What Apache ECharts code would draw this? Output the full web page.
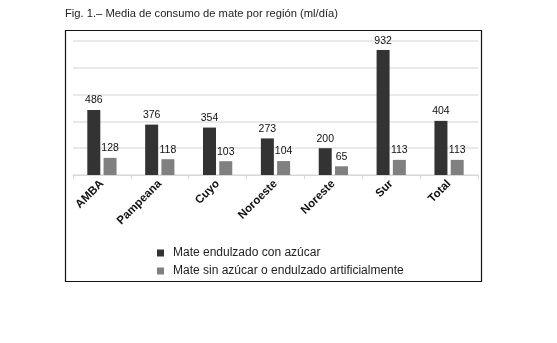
<!DOCTYPE html>
<html><head><meta charset="utf-8">
<script src="https://cdn.jsdelivr.net/npm/echarts@6/dist/echarts.min.js"></script>
<style>html,body{margin:0;padding:0;background:#fff}#c{width:557px;height:343px}</style>
</head><body><div id="c"></div>
<script>
const categories = ['AMBA','Pampeana','Cuyo','Noroeste','Noreste','Sur','Total'];
const conAzucar = [486,376,354,273,200,932,404];
const sinAzucar = [128,118,103,104,65,113,113];
const seriesNames = ['Mate endulzado con azúcar','Mate sin azúcar o endulzado artificialmente'];
const titleText = 'Fig. 1.– Media de consumo de mate por región (ml/día)';

const chart = echarts.init(document.getElementById('c'), null, {renderer:'canvas'});
const font = 'Liberation Sans, Arial, Helvetica, sans-serif';
const lbl = {show:true, position:'top', distance:4, color:'#111', fontSize:10.5, fontFamily:font};
chart.setOption({
  animation:false,
  textStyle:{fontFamily:font},
  title:{text:titleText, left:60, top:3, textStyle:{fontSize:11.2, fontWeight:'normal', color:'#222', fontFamily:font}},
  graphic:[{type:'rect', shape:{x:65.5, y:30.5, width:416, height:251}, style:{fill:'none', stroke:'#111', lineWidth:1.2}, z:-1}],
  grid:{left:73, right:79, top:41, bottom:168},
  legend:{orient:'vertical', left:152, top:242, itemWidth:7, itemHeight:7, itemGap:6, icon:'rect',
    textStyle:{fontSize:12, color:'#222', fontFamily:font, padding:[0,0,0,4]}, data:seriesNames},
  xAxis:{type:'category', data:categories,
    axisLine:{lineStyle:{color:'#d8d8d8'}},
    axisTick:{show:true, length:4, lineStyle:{color:'#d8d8d8'}},
    axisLabel:{rotate:45, fontWeight:'bold', fontSize:11.5, color:'#111', margin:7, fontFamily:font}},
  yAxis:{type:'value', min:0, max:1000, interval:200,
    axisLabel:{show:false}, axisLine:{show:false}, axisTick:{show:false},
    splitLine:{lineStyle:{color:'#e2e2e2', width:1.5}}},
  series:[
    {name:seriesNames[0], type:'bar', data:conAzucar, barWidth:13, barGap:'25%', itemStyle:{color:'#333333'}, label:lbl},
    {name:seriesNames[1], type:'bar', data:sinAzucar, barWidth:13, itemStyle:{color:'#808080'}, label:lbl}
  ]
});
</script></body></html>
